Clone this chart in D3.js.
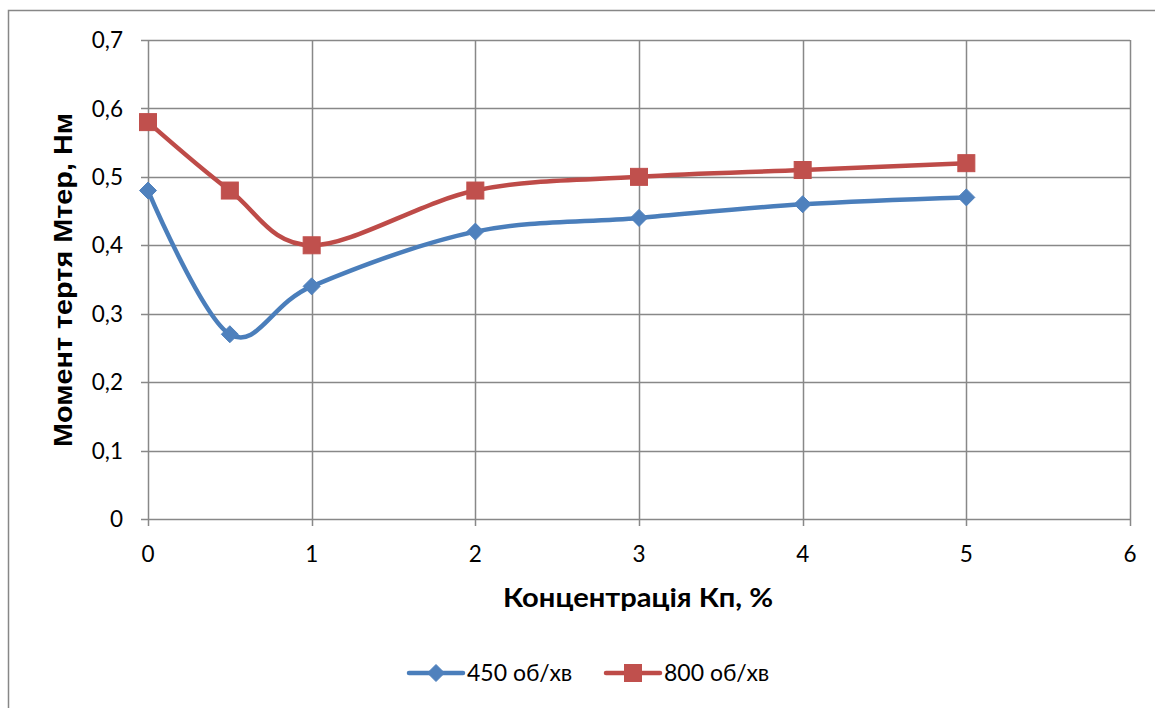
<!DOCTYPE html>
<html>
<head>
<meta charset="utf-8">
<script src="https://cdn.jsdelivr.net/npm/d3@7"></script>
<style>
  html, body { margin: 0; padding: 0; background: #fff; }
  svg { display: block; }
</style>
</head>
<body>
<svg id="chart" width="1155" height="708"></svg>
<script>
// Concentration of additive (x) and friction torque (y) for two rotation speeds
const concentration = [0, 0.5, 1, 2, 3, 4, 5];
const torque450 = [0.48, 0.27, 0.34, 0.42, 0.44, 0.46, 0.47];
const torque800 = [0.58, 0.48, 0.40, 0.48, 0.50, 0.51, 0.52];
const seriesNames = ["450 об/хв", "800 об/хв"];
const xTicks = [0, 1, 2, 3, 4, 5, 6];
const yTicks = [0, 0.1, 0.2, 0.3, 0.4, 0.5, 0.6, 0.7];
const xTitle = "Концентрація Кп, %";
const yTitle = "Момент тертя Мтер, Нм";

const svg = d3.select("#chart");
const W = 1155, H = 708;
const plotLeft = 148, plotRight = 1130, plotTop = 40, plotBottom = 519;

const labelFont = "Lato, 'Open Sans', sans-serif";
const tickSize = 22.5;

// outer chart frame
svg.append("rect")
  .attr("x", 8.5).attr("y", 10.5)
  .attr("width", W + 10).attr("height", H + 10)
  .attr("fill", "#fff").attr("stroke", "#878787").attr("stroke-width", 1.5);

const x = d3.scaleLinear().domain([0, 6]).range([plotLeft, plotRight]);
const y = d3.scaleLinear().domain([0, 0.7]).range([plotBottom, plotTop]);

const grid = svg.append("g");
const gridColor = "#888";

// horizontal gridlines with tick stubs on the left
grid.selectAll("line.h").data(yTicks).join("line")
  .attr("class", "h")
  .attr("x1", plotLeft - 7).attr("x2", plotRight)
  .attr("y1", d => Math.round(y(d)) + 0.5).attr("y2", d => Math.round(y(d)) + 0.5)
  .attr("stroke", gridColor).attr("stroke-width", 1.5);

// vertical gridlines with tick stubs below
grid.selectAll("line.v").data(xTicks).join("line")
  .attr("class", "v")
  .attr("x1", d => Math.round(x(d)) + 0.5).attr("x2", d => Math.round(x(d)) + 0.5)
  .attr("y1", plotTop).attr("y2", plotBottom + 7)
  .attr("stroke", gridColor).attr("stroke-width", 1.5);

const fmt = d => d3.format(".1~f")(d).replace(".", ",");

svg.append("g").selectAll("text").data(yTicks).join("text")
  .attr("x", plotLeft - 25).attr("y", d => y(d))
  .attr("dy", "0.36em").attr("text-anchor", "end")
  .attr("font-family", labelFont).attr("font-size", tickSize).attr("fill", "#000")
  .text(fmt);

svg.append("g").selectAll("text").data(xTicks).join("text")
  .attr("x", d => x(d)).attr("y", 562)
  .attr("text-anchor", "middle")
  .attr("font-family", labelFont).attr("font-size", tickSize).attr("fill", "#000")
  .text(d => d);

// axis titles
svg.append("text")
  .attr("x", 638).attr("y", 607)
  .attr("text-anchor", "middle")
  .attr("font-family", labelFont).attr("font-weight", "bold")
  .attr("font-size", 27).attr("textLength", 270).attr("lengthAdjust", "spacingAndGlyphs")
  .attr("fill", "#000")
  .text(xTitle);

svg.append("text")
  .attr("transform", `translate(72, 280) rotate(-90)`)
  .attr("text-anchor", "middle")
  .attr("font-family", "'Liberation Sans', Arial, sans-serif").attr("font-weight", "bold")
  .attr("font-size", 26).attr("textLength", 334).attr("lengthAdjust", "spacingAndGlyphs")
  .attr("fill", "#000")
  .text(yTitle);

const series = [
  { name: seriesNames[0], values: torque450, line: "#4A7EBB", fill: "#4F81BD", shape: "diamond" },
  { name: seriesNames[1], values: torque800, line: "#BE4B48", fill: "#C0504D", shape: "square" }
];

const lineGen = d3.line()
  .x(d => x(d[0])).y(d => y(d[1]))
  .curve(d3.curveCardinal.tension(0));

function marker(g, shape, cx, cy, color) {
  if (shape === "diamond") {
    g.append("path")
      .attr("d", `M${cx},${cy - 8.5}L${cx + 8.5},${cy}L${cx},${cy + 8.5}L${cx - 8.5},${cy}Z`)
      .attr("fill", color).attr("stroke", color).attr("stroke-width", 1);
  } else {
    g.append("rect")
      .attr("x", cx - 8.5).attr("y", cy - 8.5).attr("width", 17).attr("height", 17)
      .attr("fill", color).attr("stroke", color).attr("stroke-width", 1);
  }
}

series.forEach(s => {
  const pts = concentration.map((c, i) => [c, s.values[i]]);
  svg.append("path")
    .attr("d", lineGen(pts))
    .attr("fill", "none").attr("stroke", s.line)
    .attr("stroke-width", 4.5).attr("stroke-linecap", "round").attr("stroke-linejoin", "round");
  const g = svg.append("g");
  pts.forEach(p => marker(g, s.shape, x(p[0]), y(p[1]), s.fill));
});

// legend
const legendY = 673;
const legendItems = [
  { s: series[0], x0: 409 },
  { s: series[1], x0: 606 }
];
legendItems.forEach(({ s, x0 }) => {
  const g = svg.append("g");
  g.append("line")
    .attr("x1", x0).attr("x2", x0 + 54).attr("y1", legendY).attr("y2", legendY)
    .attr("stroke", s.line).attr("stroke-width", 4.5).attr("stroke-linecap", "round");
  marker(g, s.shape, x0 + 27, legendY, s.fill);
  g.append("text")
    .attr("x", x0 + 58).attr("y", legendY).attr("dy", "0.36em")
    .attr("font-family", labelFont).attr("font-size", 23).attr("fill", "#000")
    .text(s.name);
});
</script>
</body>
</html>
